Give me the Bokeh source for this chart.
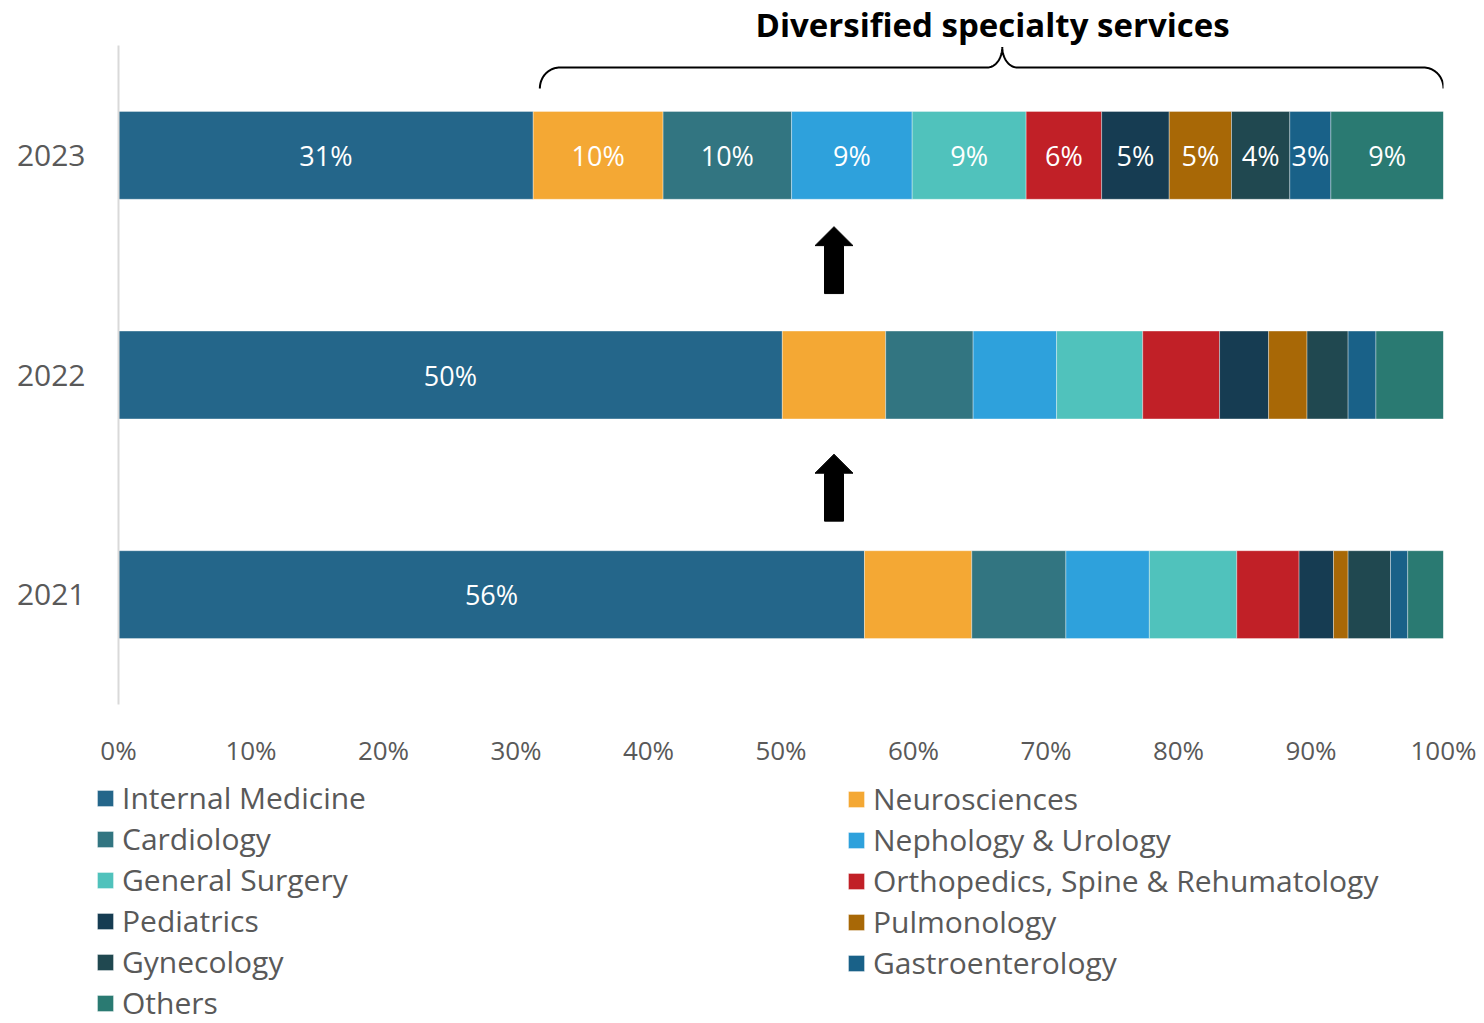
import numpy as np
from bokeh.plotting import figure
from bokeh.layouts import column
from bokeh.models import (FactorRange, Range1d, ColumnDataSource, Legend, LegendItem,
                          FixedTicker, PrintfTickFormatter)
from bokeh.embed import file_html
from bokeh.resources import INLINE
from bokeh.core.properties import value

# ---------------- data ----------------
years = ["2021", "2022", "2023"]
specialties = ["Internal Medicine", "Neurosciences", "Cardiology", "Nephology & Urology",
               "General Surgery", "Orthopedics, Spine & Rehumatology", "Pediatrics",
               "Pulmonology", "Gynecology", "Gastroenterology", "Others"]
colors = ["#24668A", "#F4A834", "#327581", "#2EA1DC", "#50C2BC", "#C12027",
          "#163C52", "#A86806", "#204850", "#196188", "#2A7A72"]
share_2021 = [56.3, 8.1, 7.1, 6.3, 6.6, 4.7, 2.6, 1.1, 3.2, 1.3, 2.7]
share_2022 = [50.1, 7.8, 6.6, 6.3, 6.5, 5.8, 3.7, 2.9, 3.1, 2.1, 5.1]
share_2023 = [31.3, 9.8, 9.7, 9.1, 8.6, 5.7, 5.1, 4.7, 4.4, 3.1, 8.5]
x_ticks = [0, 10, 20, 30, 40, 50, 60, 70, 80, 90, 100]
years_all_labels = ["2023"]
title_text = "Diversified specialty services"
arrow_x = 54.0

shares = {"2021": share_2021, "2022": share_2022, "2023": share_2023}

# ---------------- layout constants ----------------
W = 1480
H1, H2 = 770, 253
BL, BT, BB = 118, 45, 65
BR = W - 1443
FRAME_W = W - BL - BR
FRAME_H = H1 - BT - BB
XPX = 100.0 / FRAME_W            # data units per px (x)
YPX = len(years) / FRAME_H       # synthetic units per px (y)
TEXT = "#595959"
FONT = "Open Sans"

keys = [f"s{i}" for i in range(len(specialties))]
data = {"year": years}
for i, k in enumerate(keys):
    data[k] = [shares[y][i] for y in years]
src = ColumnDataSource(data)

p = figure(width=W, height=H1, output_backend="svg", toolbar_location=None,
           y_range=FactorRange(factors=years), x_range=Range1d(0, 100),
           min_border_left=BL, min_border_right=BR, min_border_top=BT, min_border_bottom=BB,
           title=title_text)
p.frame_align = False
p.outline_line_color = None
p.xgrid.visible = False
p.ygrid.visible = False

# title centred over the brace
p.title.text_font = FONT
p.title.text_font_style = "bold"
p.title.text_font_size = "33px"
p.title.text_color = "black"
p.title.align = "left"
p.title.offset = 637
p.title.standoff = -3

renderers = p.hbar_stack(keys, y="year", height=0.4, color=colors, source=src,
                         line_color="white", line_alpha=0.35, line_width=1)

# segment labels
lx, ly, lt = [], [], []
for y in years:
    vals = np.array(shares[y])
    ends = np.cumsum(vals)
    mids = ends - vals / 2
    n = len(vals) if y in years_all_labels else 1
    for j in range(n):
        lx.append(float(mids[j]))
        ly.append(y)
        lt.append(f"{int(vals[j] + 0.5)}%")
p.text(x="x", y="y", text="t", source=ColumnDataSource(dict(x=lx, y=ly, t=lt)),
       text_color="white", text_font=value(FONT), text_font_size="27px",
       text_align="center", text_baseline="middle")

# arrows between bars (pointing up)
L, HL, HW, SW = 67, 19, 19, 9.5
axs, ays = [], []
for c in [1.0 - 0.013, 2.0 + 0.023]:
    yb, yt = c - L / 2 * YPX, c + L / 2 * YPX
    yh = yt - HL * YPX
    sw, hw = SW * XPX, HW * XPX
    axs.append([arrow_x - sw, arrow_x + sw, arrow_x + sw, arrow_x + hw, arrow_x,
                arrow_x - hw, arrow_x - sw])
    ays.append([yb, yb, yh, yh, yt, yh, yh])
p.patches(axs, ays, color="black")

# brace over the specialty segments of the latest year
x0 = share_2023[0] + 0.5
x1 = 100.0
xm = (x0 + x1) / 2
xc = xm + 0.8
top = float(len(years))
yh = top - 22 * YPX
rx, ry = 20 * XPX, 21 * YPX
rx2, ry2 = 15 * XPX, 20.5 * YPX
def arc(cx, cy, a0, a1, rxx, ryy, n=24):
    t = np.radians(np.linspace(a0, a1, n))
    return list(cx + rxx * np.cos(t)), list(cy + ryy * np.sin(t))
bx, by = [], []
for seg in [arc(x0 + rx, yh - ry, 180, 90, rx, ry),
            arc(xc - rx2, yh + ry2, 270, 360, rx2, ry2),
            arc(xc + rx2, yh + ry2, 180, 270, rx2, ry2),
            arc(x1 - rx, yh - ry, 90, 0, rx, ry)]:
    bx += seg[0]
    by += seg[1]
p.line(bx, by, line_color="black", line_width=2)

# axes
p.yaxis.major_tick_line_color = None
p.yaxis.minor_tick_line_color = None
p.yaxis.axis_line_color = "#D9D9D9"
p.yaxis.axis_line_width = 2
p.yaxis.major_label_text_font = FONT
p.yaxis.major_label_text_font_size = "30px"
p.yaxis.major_label_text_color = TEXT
p.yaxis.major_label_standoff = 27

p.xaxis.ticker = FixedTicker(ticks=x_ticks)
p.xaxis.formatter = PrintfTickFormatter(format="%d%%")
p.xaxis.axis_line_color = None
p.xaxis.major_tick_line_color = None
p.xaxis.minor_tick_line_color = None
p.xaxis.major_label_text_font = FONT
p.xaxis.major_label_text_font_size = "26px"
p.xaxis.major_label_text_color = TEXT
p.xaxis.major_label_standoff = 21

# ---------------- legend panel (second figure) ----------------
p2 = figure(width=W, height=H2, output_backend="svg", toolbar_location=None,
            y_range=FactorRange(factors=years), x_range=Range1d(200, 300),
            x_axis_type=None, y_axis_type=None,
            min_border_left=0, min_border_right=0, min_border_top=0, min_border_bottom=0)
p2.frame_align = False
p2.outline_line_color = None
p2.grid.visible = False
# degenerate, off-screen stand-in bars that only carry the legend swatches
swatch_src = ColumnDataSource(dict(y=[years[0]], l=[0.0], r=[0.0]))
leg_renderers = []
for i in range(len(specialties)):
    r = p2.hbar(y="y", left="l", right="r", height=0.0, fill_color=colors[i],
                line_color="white", line_alpha=0.35, line_width=1, source=swatch_src)
    leg_renderers.append(r)

ITEM, SPACING = 41, -1
def make_legend(idx, x_px, top_px):
    h = ITEM * len(idx) + SPACING * (len(idx) - 1)
    return Legend(items=[LegendItem(label=specialties[i], renderers=[leg_renderers[i]]) for i in idx],
                  location=(x_px, H2 - top_px - h), orientation="vertical",
                  padding=0, margin=0, spacing=SPACING,
                  glyph_width=20, glyph_height=20, label_height=ITEM, label_standoff=7,
                  border_line_color=None, background_fill_alpha=0,
                  label_text_font=FONT, label_text_font_size="30px", label_text_color=TEXT)
n = len(specialties)
p2.add_layout(make_legend(list(range(0, n, 2)), 95, 12))
p2.add_layout(make_legend(list(range(1, n, 2)), 846, 12))

open("out.html", "w").write(file_html(column(p, p2, spacing=0), INLINE))
